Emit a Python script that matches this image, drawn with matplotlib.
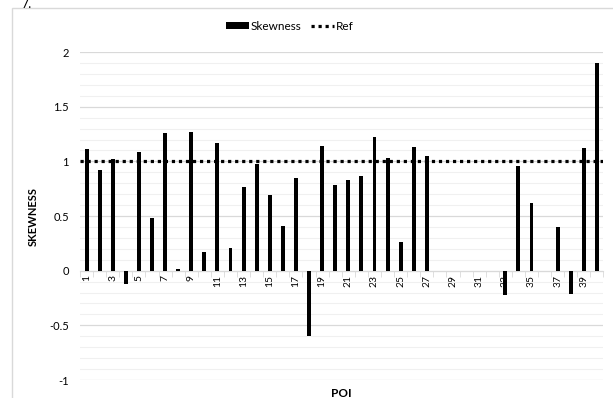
import numpy as np
import matplotlib
matplotlib.use("Agg")
import matplotlib.pyplot as plt
from matplotlib.ticker import MultipleLocator, FixedLocator

plt.rcParams['font.family'] = ['Lato', 'DejaVu Sans']

# donnees
poi = list(range(1, 41))
skew = [1.11, 0.92, 1.02, -0.12, 1.09, 0.48, 1.26, 0.02, 1.27, 0.17,
        1.17, 0.21, 0.77, 0.98, 0.69, 0.41, 0.85, -0.60, 1.14, 0.78,
        0.83, 0.87, 1.22, 1.03, 0.26, 1.13, 1.05, 0, 0, 0,
        0, 0, -0.22, 0.96, 0.62, 0, 0.40, -0.21, 1.12, 1.90]
ref = 1.0
tick_lbl = [str(p) for p in poi if p % 2 == 1]

fig = plt.figure(figsize=(6.13, 3.98), dpi=100)
# cadre exterieur gris clair
fig.patches.append(plt.Rectangle((0.02, -0.01), 0.99, 0.99, transform=fig.transFigure,
                                 fill=False, edgecolor='#d9d9d9', lw=1))
fig.text(0.035, 0.99, "7.", fontsize=9, va='center')

ax = fig.add_axes([0.1305, 0.0452, 0.854, 0.824])
x = np.arange(len(poi))
b = ax.bar(x, skew, width=0.3, color='black', label='Skewness', zorder=3)
l, = ax.plot([-0.5, len(poi) - 0.5], [ref, ref], ls=(0, (1, 1.2)), lw=2.3, color='black',
             label='Ref', zorder=4)

ax.set_xlim(-0.5, len(poi) - 0.5)
ax.set_ylim(-1, 2)
ax.yaxis.set_minor_locator(MultipleLocator(0.1))
ax.set_yticks([-1, -0.5, 0, 0.5, 1, 1.5, 2])
ax.set_yticklabels(['-1', '-0.5', '0', '0.5', '1', '1.5', '2'], fontsize=8)
ax.grid(axis='y', which='major', color='#d9d9d9', lw=0.9, zorder=0)
ax.grid(axis='y', which='minor', color='#f0f0f0', lw=0.8, zorder=0)
ax.tick_params(axis='y', which='both', length=0, pad=8)

for s in ['top', 'right', 'left']:
    ax.spines[s].set_visible(False)
ax.spines['bottom'].set_position(('data', 0))
ax.spines['bottom'].set_color('#d9d9d9')

ax.set_xticks(x[::2])
ax.set_xticklabels(tick_lbl, rotation=90, fontsize=7.5)
ax.xaxis.set_minor_locator(FixedLocator(np.arange(-0.5, len(poi), 1)))
ax.tick_params(axis='x', which='major', length=0, pad=3)
ax.tick_params(axis='x', which='minor', length=4, color='#d9d9d9')

ax.set_ylabel('SKEWNESS', fontsize=8, fontweight='bold')
ax.yaxis.set_label_coords(-0.078, 0.5)
ax.set_xlabel('POI', fontsize=8.5, fontweight='bold')
ax.xaxis.set_label_coords(0.5, -0.025)

ax.legend([b, l], ['Skewness', 'Ref'], loc='lower center', bbox_to_anchor=(0.40, 1.03),
          ncol=2, frameon=False, fontsize=8.5, handlelength=2.0, handleheight=0.6,
          columnspacing=0.8, handletextpad=0.1)

fig.savefig('out.png', dpi=100)
